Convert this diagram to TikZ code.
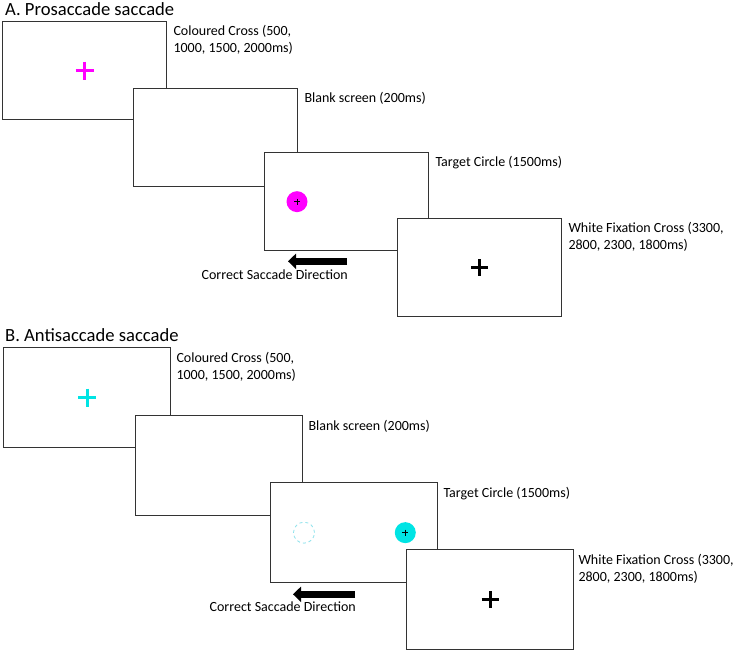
\documentclass[tikz,border=0pt]{standalone}
\usepackage{fontspec}
\setmainfont{Carlito}
\usetikzlibrary{arrows.meta}
\definecolor{crosspink}{RGB}{255,0,255}
\definecolor{crosscyan}{RGB}{0,228,228}
\definecolor{ringcyan}{RGB}{140,226,236}
\begin{document}
\begin{tikzpicture}[x=1pt,y=-1pt,
  screen/.style={draw=black!80,line width=1.3pt,fill=white,anchor=north west,inner sep=0pt},
  lab/.style={anchor=north west,align=left,inner sep=0pt,font=\fontsize{14}{17.5}\selectfont},
  ttl/.style={anchor=west,inner sep=0pt,font=\fontsize{18.6}{21}\selectfont},
  dirarrow/.style={line width=7pt,-{Triangle[length=8pt,width=15pt]}},
  xcross/.style={line width=3.3pt},
  dot/.style={circle,inner sep=0pt,minimum size=21pt}]
\useasboundingbox (0,0) rectangle (737,651);
% A: prosaccade, four screens stepping down to the right
\node[ttl] (ttlA) at (5,9) {A. Prosaccade saccade};
\foreach \n/\x/\y in {a1/2/21,a2/133/88,a3/264/152,a4/397/218}{
  \node[screen,minimum width=164pt,minimum height=98pt] (\n) at (\x,\y) {};}
\node[lab] (a1lab) at ([shift={(6,4)}]a1.north east) {Coloured Cross (500,\\1000, 1500, 2000ms)};
\node[lab] (a2lab) at ([shift={(6,4)}]a2.north east) {Blank screen (200ms)};
\node[lab] (a3lab) at ([shift={(6,4)}]a3.north east) {Target Circle (1500ms)};
\node[lab] (a4lab) at ([shift={(6,4)}]a4.north east) {White Fixation Cross (3300,\\2800, 2300, 1800ms)};
\draw[xcross,crosspink] (a1.center) +(-9,0) -- +(9,0) +(0,-9) -- +(0,9);
\draw[xcross,black] (a4.center) +(-8.5,0) -- +(8.5,0) +(0,-8.5) -- +(0,8.5);
\node[dot,fill=crosspink] (a3tgt) at ([xshift=33pt]a3.west) {};
\draw[line width=0.7pt] (a3tgt.center) +(-3,0) -- +(3,0) +(0,-3) -- +(0,3);
\coordinate (a3from) at ([shift={(83,10)}]a3.south west);
\coordinate (a3to) at ([shift={(24,10)}]a3.south west);
\draw[dirarrow] (a3from) -- (a3to);
\node[lab,anchor=north east] (a3dir) at ([shift={(1,8)}]a3from) {Correct Saccade Direction};
% B: antisaccade, same layout
\node[ttl] (ttlB) at (5,335) {B. Antisaccade saccade};
\foreach \n/\x/\y in {b1/3/347,b2/135/415,b3/270/482,b4/406/549}{
  \node[screen,minimum width=167pt,minimum height=100pt] (\n) at (\x,\y) {};}
\node[lab] (b1lab) at ([shift={(5,5)}]b1.north east) {Coloured Cross (500,\\1000, 1500, 2000ms)};
\node[lab] (b2lab) at ([shift={(5,5)}]b2.north east) {Blank screen (200ms)};
\node[lab] (b3lab) at ([shift={(5,5)}]b3.north east) {Target Circle (1500ms)};
\node[lab] (b4lab) at ([shift={(4,5)}]b4.north east) {White Fixation Cross (3300,\\2800, 2300, 1800ms)};
\draw[xcross,crosscyan] (b1.center) +(-9,0) -- +(9,0) +(0,-9) -- +(0,9);
\draw[xcross,black] (b4.center) +(-8.5,0) -- +(8.5,0) +(0,-8.5) -- +(0,8.5);
\node[dot,draw=ringcyan,dashed,line width=0.8pt] (b3ring) at ([xshift=34pt]b3.west) {};
\node[dot,fill=crosscyan] (b3tgt) at ([xshift=-33pt]b3.east) {};
\draw[line width=0.7pt] (b3tgt.center) +(-3,0) -- +(3,0) +(0,-3) -- +(0,3);
\coordinate (b3from) at ([shift={(85,11)}]b3.south west);
\coordinate (b3to) at ([shift={(23,11)}]b3.south west);
\draw[dirarrow] (b3from) -- (b3to);
\node[lab,anchor=north east] (b3dir) at ([shift={(1,7)}]b3from) {Correct Saccade Direction};
\end{tikzpicture}
\end{document}
